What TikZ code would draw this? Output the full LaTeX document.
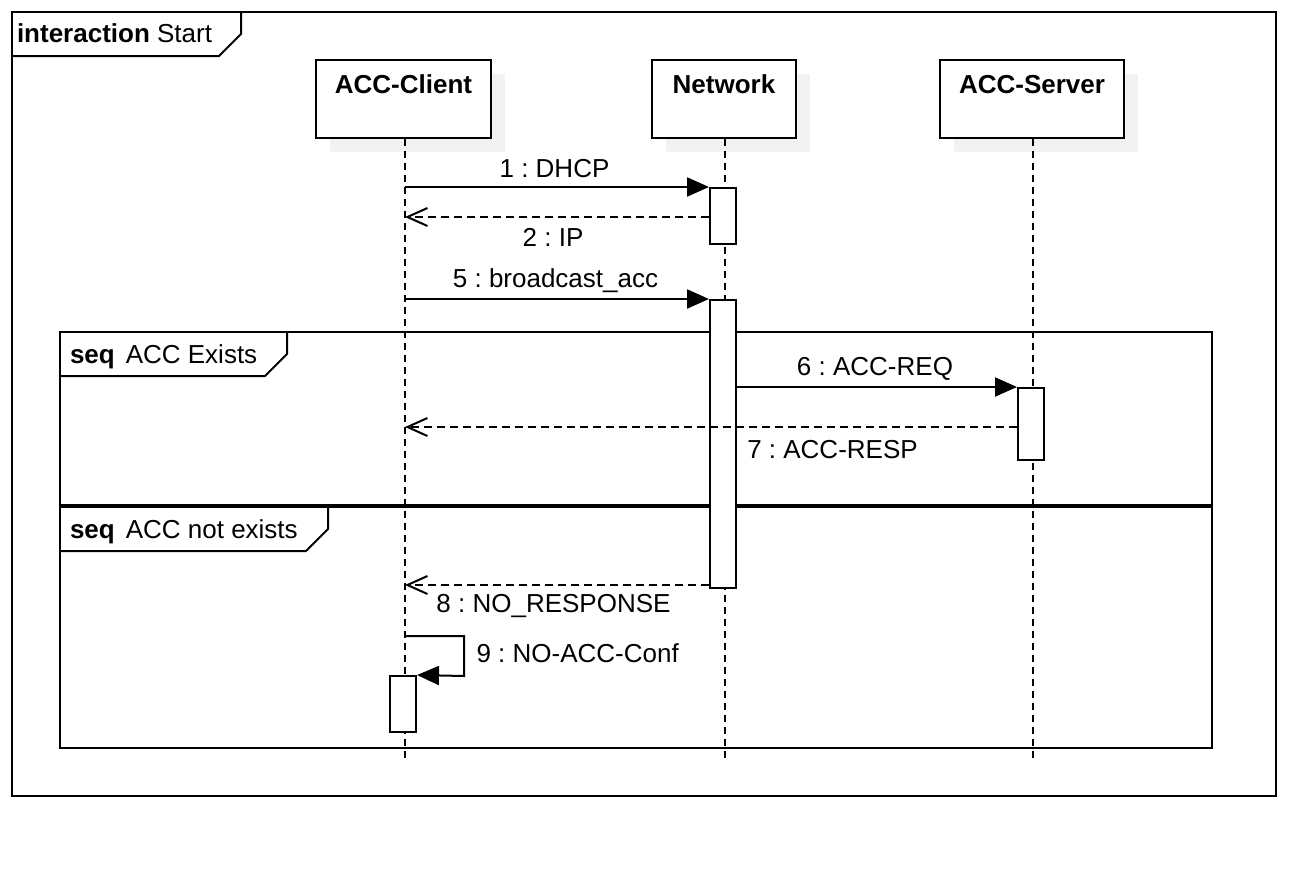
\documentclass[tikz,border=0pt]{standalone}
\usepackage{fontspec}
\setmainfont{Liberation Sans}
\usetikzlibrary{arrows.meta,calc}
\definecolor{shadowc}{HTML}{F2F2F2}
\frenchspacing
\begin{document}
\begin{tikzpicture}[x=1pt,y=-1pt,line width=2pt,
  lbl/.style={font=\fontsize{26}{30}\selectfont\frenchspacing,inner sep=0pt,anchor=base},
  head/.style={draw,fill=white,inner sep=0pt,minimum height=78pt},
  act/.style={draw,fill=white,inner sep=0pt,minimum width=26pt},
  lifeline/.style={dash pattern=on 7pt off 5pt},
  sync/.style={-{Triangle[length=22pt,width=19pt]}},
  reply/.style={dash pattern=on 8pt off 5pt,-{Straight Barb[length=20pt,width=18pt]}},
  frameline/.style={line join=miter}]
\useasboundingbox (0,0) rectangle (1290,876);

% outer interaction frame
\draw[frameline] (12,12) rectangle (1276,796);
\draw[frameline] (12,56) -- (219,56) -- (241,34) -- (241,12);
\node[lbl,anchor=base west] (ftitle) at (16,42) {\textbf{interaction} Start};

% seq fragments
\draw[frameline] (60,332) rectangle (1212,505);
\draw[frameline] (60,376) -- (265,376) -- (287,354) -- (287,332);
\node[lbl,anchor=base west] (seqA) at (69,363) {\textbf{seq}\hspace{11pt}ACC Exists};
\draw[frameline] (60,507) rectangle (1212,748);
\draw[frameline] (60,551) -- (306,551) -- (328,529) -- (328,507);
\node[lbl,anchor=base west] (seqB) at (69,538) {\textbf{seq}\hspace{11pt}ACC not exists};

% lifeline heads with shadows
\fill[shadowc] (330,74) rectangle (505,152);
\fill[shadowc] (666,74) rectangle (810,152);
\fill[shadowc] (954,74) rectangle (1138,152);
\node[head,minimum width=175pt] (client) at (403.5,99) {};
\node[head,minimum width=144pt] (network) at (724,99) {};
\node[head,minimum width=184pt] (server) at (1032,99) {};
\node[lbl] (clientT) at ($(client.north)+(0,34.5)$) {\textbf{ACC-Client}};
\node[lbl] (networkT) at ($(network.north)+(0,34.5)$) {\textbf{Network}};
\node[lbl] (serverT) at ($(server.north)+(0,34.5)$) {\textbf{ACC-Server}};

% lifelines
\coordinate (clEnd) at (405,758);
\coordinate (nwEnd) at (725,758);
\coordinate (svEnd) at (1033,758);
\draw[lifeline] (client.south -| clEnd) -- (clEnd);
\draw[lifeline] (network.south -| nwEnd) -- (nwEnd);
\draw[lifeline] (server.south -| svEnd) -- (svEnd);

% activation bars
\node[act,minimum height=56pt] (a1) at (723,216) {};
\node[act,minimum height=288pt] (a2) at (723,444) {};
\node[act,minimum height=72pt] (a3) at (1031,424) {};
\node[act,minimum height=56pt] (a4) at (403,704) {};

% messages
\draw[sync] (a1.north west -| clEnd) -- (a1.north west);
\node[lbl] (m1) at (554.5,177) {1 : DHCP};

\coordinate (r2) at ($(a1.north west)+(0,30)$);
\draw[reply] (r2) -- (r2 -| clEnd);
\node[lbl] (m2) at (553,246) {2 : IP};

\draw[sync] (a2.north west -| clEnd) -- (a2.north west);
\node[lbl] (m5) at (555.5,287) {5 : broadcast\_acc};

\draw[sync] (a2.east |- a3.north west) -- (a3.north west);
\node[lbl] (m6) at (875,375) {6 : ACC-REQ};

\coordinate (r7) at ($(a3.north west)+(0,40)$);
\draw[reply] (r7) -- (r7 -| clEnd);
\node[lbl] (m7) at (832.5,458) {7 : ACC-RESP};

\coordinate (r8) at ($(a2.south west)+(0,-4)$);
\draw[reply] (r8) -- (r8 -| clEnd);
\node[lbl] (m8) at (553.5,612) {8 : NO\_RESPONSE};

\coordinate (s9) at (405,636);
\draw[sync,line join=miter] (s9) -- (464,636) -- (464 ,676) -- (a4.north east);
\node[lbl,anchor=base west] (m9) at (475.5,662) {9 : NO-ACC-Conf};
\end{tikzpicture}
\end{document}
